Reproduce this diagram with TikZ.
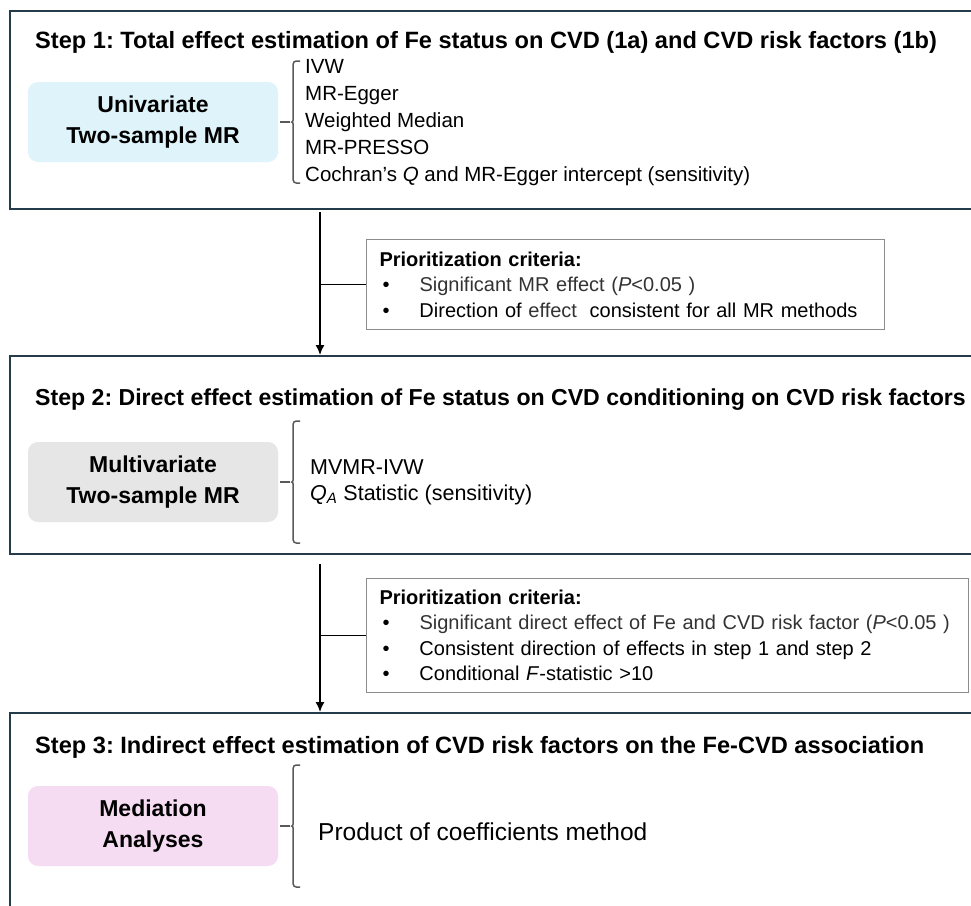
\documentclass[tikz,border=0pt]{standalone}
\usepackage{fontspec}
\setmainfont{Liberation Sans}
\usetikzlibrary{calc,arrows.meta}
\frenchspacing

\definecolor{framecol}{HTML}{243B4A}
\definecolor{unifill}{HTML}{DFF3FA}
\definecolor{multifill}{HTML}{E6E6E6}
\definecolor{medifill}{HTML}{F6DCF2}
\definecolor{bracecol}{HTML}{5A5A5A}
\definecolor{critcol}{HTML}{8C8C8C}
\definecolor{softtext}{HTML}{333333}

% brace from a method box to its list
\newcommand\methodbrace[1]{%
  \draw[bracket] ([xshift=2pt]#1.east) -- ++(10,0);
  \draw[bracket] ($(#1.east)+(22,-61)$) -- ++(-7,0) -- ++(0,56)
    .. controls ++(0,4) and ++(3,0) .. ++(-4,5) .. controls ++(3,0) and ++(0,-4) .. ++(4,5)
    -- ++(0,56) -- ++(7,0);}
\newcommand\critem[1]{\hspace*{3pt}\makebox[37pt][l]{\textbullet}#1}

\begin{document}
\begin{tikzpicture}[x=1pt,y=-1pt,>={Latex[length=10pt,width=9pt]},
  stepframe/.style={draw=framecol,line width=2pt,anchor=north west,minimum width=1000pt,minimum height=198pt},
  steptitle/.style={anchor=west,inner sep=0pt,font=\fontsize{23.6}{28}\selectfont\bfseries},
  method/.style={rounded corners=10pt,minimum width=250pt,minimum height=80pt,align=center,font=\fontsize{23}{31}\selectfont\bfseries},
  list/.style={anchor=west,align=left,inner sep=0pt,font=\fontsize{20.5}{27}\selectfont},
  crit/.style={draw=critcol,line width=1pt,anchor=north west,align=left,inner xsep=13pt,font=\fontsize{20}{25.5}\selectfont},
  bracket/.style={draw=bracecol,line width=1.5pt,rounded corners=3pt},
  flow/.style={->,line width=1.5pt}]
\useasboundingbox (0,0) rectangle (971,905);
\clip (0,0) rectangle (971,905);
\fill[white] (0,0) rectangle (971,905);

% step 1
\node[stepframe] (step1) at (9,10) {};
\node[steptitle] (title1) at (35,42) {Step 1: Total effect estimation of Fe status on CVD (1a) and CVD risk factors (1b)};
\node[method,fill=unifill] (uni) at (153,122) {Univariate\\Two-sample MR};
\node[list] (list1) at (305,123) {IVW\\MR-Egger\\Weighted Median\\MR-PRESSO\\Cochran’s \textit{Q} and MR-Egger intercept (sensitivity)};
\methodbrace{uni}

% step 2
\node[stepframe] (step2) at (9,355) {};
\node[steptitle,font=\fontsize{23.1}{28}\selectfont\bfseries] (title2) at (35,400) {Step 2: Direct effect estimation of Fe status on CVD conditioning on CVD risk factors};
\node[method,fill=multifill] (multi) at (153,482) {Multivariate\\Two-sample MR};
\node[list,font=\fontsize{21.5}{26}\selectfont] (list2) at (310,482) {MVMR-IVW\\\textit{Q}\textsubscript{\textit{A}} Statistic (sensitivity)};
\methodbrace{multi}

% step 3
\node[stepframe,minimum height=400pt] (step3) at (9,712) {};
\node[steptitle] (title3) at (35,747) {Step 3: Indirect effect estimation of CVD risk factors on the Fe-CVD association};
\node[method,fill=medifill] (medi) at (153,826) {Mediation\\Analyses};
\node[list,font=\fontsize{24.5}{30}\selectfont] (list3) at (318,832) {Product of coefficients method};
\methodbrace{medi}

% prioritization criteria
\node[crit,text width=492pt,minimum height=90pt] (crit1) at (366,239) {\textbf{Prioritization criteria:}\\
  \critem{\textcolor{softtext}{Significant MR effect (\textit{P}<0.05 )}}\\
  \critem{Direction of \textcolor{softtext}{effect}\hspace{0.3em} consistent for all MR methods}};
\node[crit,text width=576pt,minimum height=114pt] (crit2) at (366,578) {\textbf{Prioritization criteria:}\\
  \critem{\textcolor{softtext}{Significant direct effect of Fe and CVD risk factor (\textit{P}<0.05 )}}\\
  \critem{Consistent direction of effects in step 1 and step 2}\\
  \critem{Conditional \textit{F}-statistic >10}};

% flow arrows
\coordinate (a1) at (320,0);
\draw[flow] ([yshift=-2pt]step1.south -| a1) -- (step2.north -| a1);
\draw[flow] ([yshift=-9pt]step2.south -| a1) -- (step3.north -| a1);
\draw[line width=1.2pt] (crit1.west) -- (crit1.west -| a1);
\draw[line width=1.2pt] (crit2.west) -- (crit2.west -| a1);
\end{tikzpicture}
\end{document}
